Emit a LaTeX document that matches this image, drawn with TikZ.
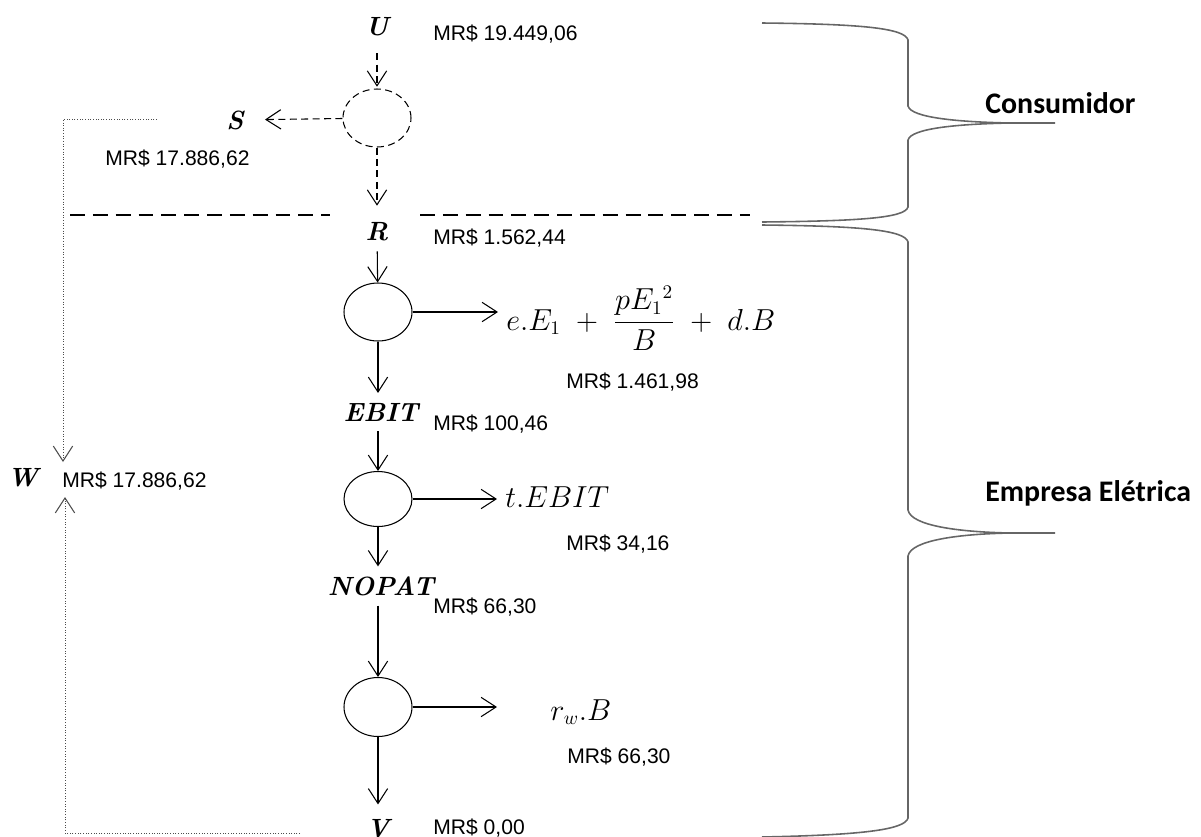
\documentclass[tikz,border=0pt]{standalone}
\usepackage{fontspec}
\setsansfont{Liberation Sans}
\newfontfamily\calibri{Carlito}
\usetikzlibrary{arrows.meta,shapes.geometric}
\begin{document}
\begin{tikzpicture}[x=0.02cm,y=-0.02cm,
  val/.style={font=\fontsize{12}{14}\sffamily\selectfont, anchor=base west, inner sep=0pt},
  var/.style={font=\fontsize{15}{17}\selectfont\bfseries\itshape, inner xsep=2pt, inner ysep=5.5pt},
  circ/.style={draw, ellipse, inner sep=0pt, line width=0.6pt, minimum width=1.36cm, minimum height=1.16cm},
  tipv/.tip={Straight Barb[length=8.5pt,width=11pt,line width=0.6pt]},
  flow/.style={-tipv, line width=0.6pt},
  dflow/.style={flow, dash pattern=on 4pt off 2.5pt},
  dline/.style={line width=0.5pt, black!70, densely dotted},
  sep/.style={line width=0.75pt, dash pattern=on 8.5pt off 4.5pt},
  brace/.style={line width=0.9pt, black!60},
  grp/.style={font=\fontsize{17}{20}\calibri\bfseries\selectfont, anchor=west, inner sep=0pt},
  mth/.style={anchor=base west, inner sep=0pt}]
\useasboundingbox (0,0) rectangle (1201,836);

% ---- consumer part
\node[var] (U) at (377,27) {U};
\node[val] (vU) at (433,40) {MR\$ 19.449,06};
\node[circ, dash pattern=on 4pt off 2.5pt] (c0) at (377,118) {};
\node[var] (S) at (235,120) {S};
\node[val] (vS) at (105,165) {MR\$ 17.886,62};
\node[var] (R) at (377,232) {R};
\node[val] (vR) at (433,244) {MR\$ 1.562,44};

\draw[dflow, shorten <=4pt, shorten >=1pt] (U) -- (c0);
\draw[dflow, shorten >=10pt] (c0) -- (S);
\draw[dflow, shorten >=4pt] (c0) -- (R);

% separator
\coordinate (s1) at (70,215); \coordinate (s2) at (330,215);
\coordinate (s3) at (420,215); \coordinate (s4) at (750,215);
\draw[sep] (s1) -- (s2);
\draw[sep] (s3) -- (s4);

% ---- company part
\node[circ] (c1) at (378,312) {};
\node[circ, minimum height=1.1cm] (c2) at (378,499) {};
\node[circ, minimum height=1.18cm] (c3) at (378,707) {};
\node[var] (EBIT) at (381,412) {EBIT};
\node[val] (vE) at (433,430) {MR\$ 100,46};
\node[var] (NOPAT) at (381,586) {NOPAT};
\node[val] (vN) at (433,613) {MR\$ 66,30};
\node[var] (V) at (378,829) {V};
\node[val] (vV) at (433,834) {MR\$ 0,00};

\draw[flow] (R) -- (c1);
\draw[flow] (c1) -- (c1 |- EBIT.north);
\draw[flow] (EBIT.south -| c2) -- (c2);
\draw[flow] (c2) -- (c2 |- NOPAT.north);
\draw[flow] (NOPAT.south -| c3) -- (c3);
\draw[flow, shorten >=3pt] (c3) -- (V);

% outflows
\coordinate (a1) at (498,312);
\coordinate (a2) at (497,499);
\coordinate (a3) at (497,707);
\draw[flow] (c1) -- (a1);
\draw[flow] (c2) -- (a2);
\draw[flow] (c3) -- (a3);
\node[mth, font=\fontsize{16}{19}\selectfont] (f1) at (506,330) {$e.E_1\;+\;\displaystyle\frac{pE_1{}^{2}}{B}\;+\;d.B$};
\node[val] (vf1) at (566,388) {MR\$ 1.461,98};
\node[mth, font=\fontsize{17}{20}\selectfont] (f2) at (505,507) {$t.EBIT$};
\node[val] (vf2) at (566,550) {MR\$ 34,16};
\node[mth, font=\fontsize{16}{19}\selectfont] (f3) at (550,720) {$r_w.B$};
\node[val] (vf3) at (567,763) {MR\$ 66,30};

% ---- W loop
\node[var] (W) at (23,478) {W};
\node[val] (vW) at (62,487) {MR\$ 17.886,62};
\coordinate (w1) at (157,119);
\coordinate (w2) at (63,119);
\coordinate (wt) at (63,462);
\coordinate (w3) at (300,833);
\coordinate (w4) at (65,833);
\coordinate (wb) at (65,497);
\draw[dline, -tipv] (w1) -- (w2) -- (wt);
\draw[dline, -tipv] (w3) -- (w4) -- (wb);

% ---- braces
\draw[brace] (762,23) .. controls (860,24) and (905,28) .. (908,40) -- (908,106)
  .. controls (911,118) and (960,122) .. (1010,123) -- (1055,123);
\draw[brace] (1010,123) .. controls (960,124) and (911,128) .. (908,140) -- (908,207)
  .. controls (905,218) and (860,221) .. (762,222);
\draw[brace] (762,225) .. controls (860,226) and (905,230) .. (908,242) -- (908,510)
  .. controls (911,526) and (960,532) .. (1010,533) -- (1055,533);
\draw[brace] (1010,533) .. controls (960,534) and (911,540) .. (908,556) -- (908,818)
  .. controls (905,830) and (860,835) .. (762,837);

\node[grp] (g1) at (985,103) {Consumidor};
\node[grp] (g2) at (985,493) {Empresa Elétrica};
\end{tikzpicture}
\end{document}
